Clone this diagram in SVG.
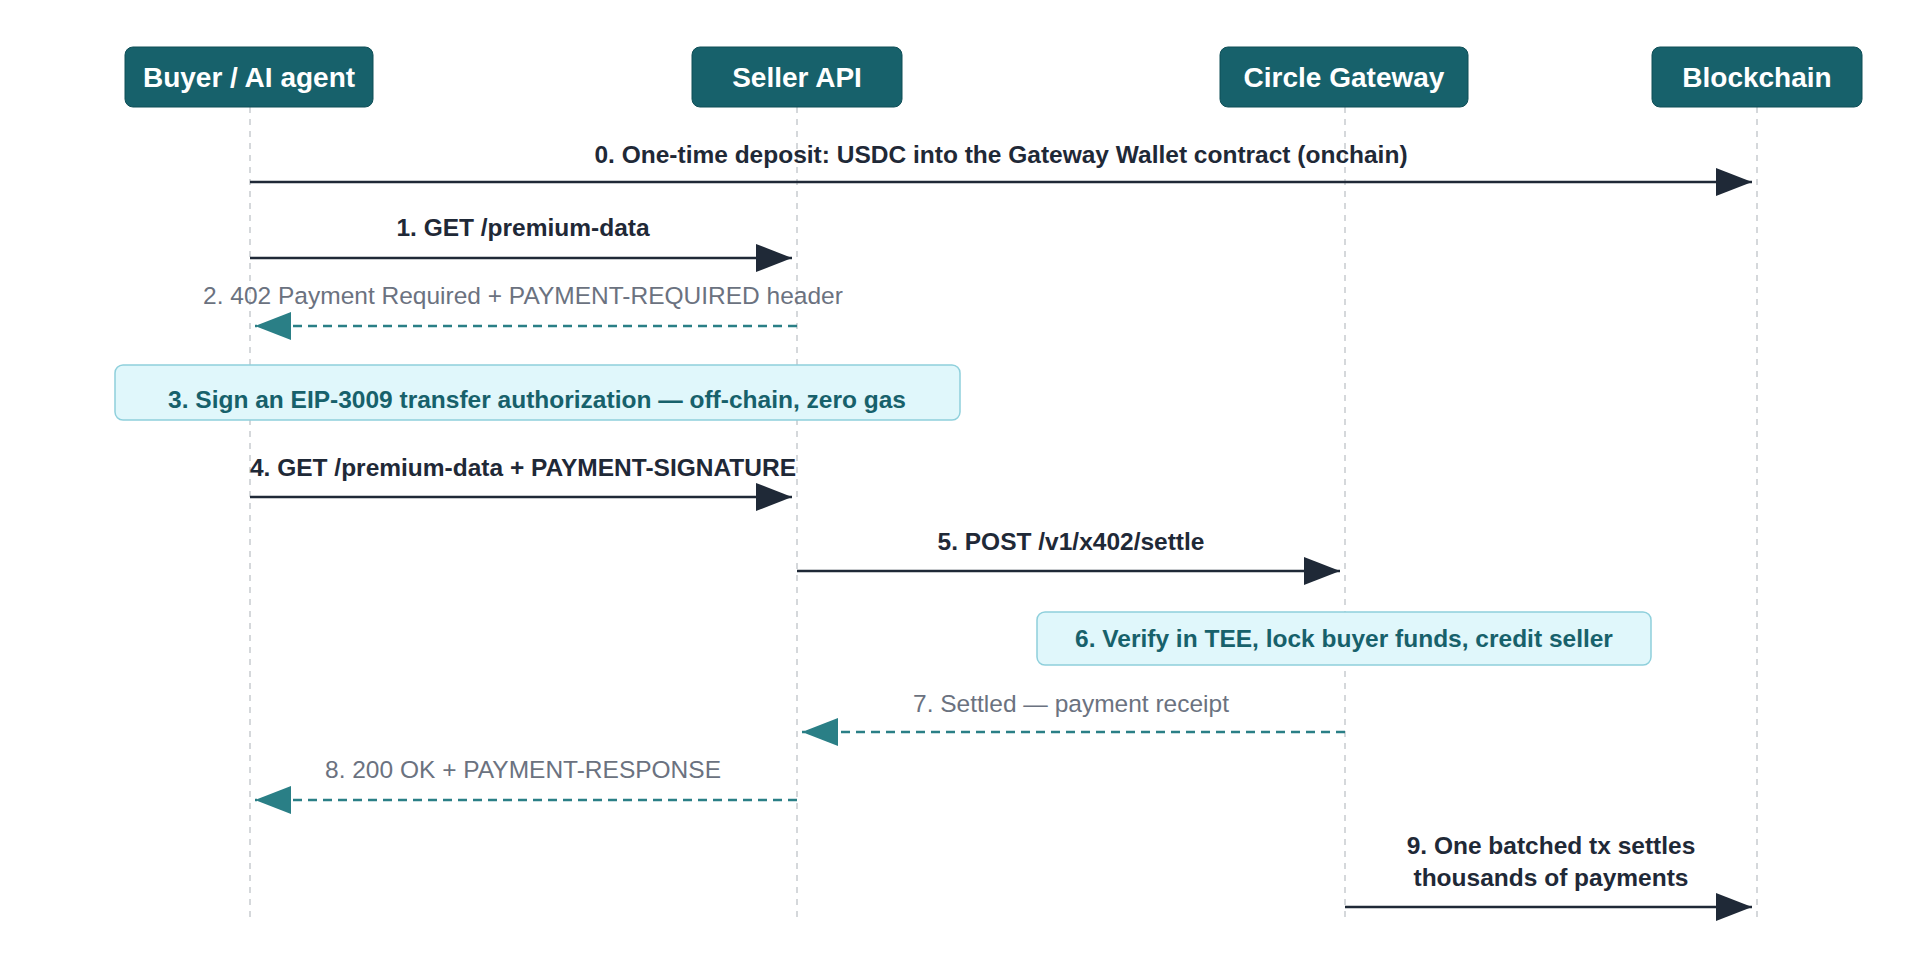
<svg xmlns="http://www.w3.org/2000/svg" width="1920" height="960" viewBox="0 0 1920 960">
<defs>
<marker id="ah" viewBox="0 0 36 28" refX="36" refY="14" markerWidth="36" markerHeight="28" markerUnits="userSpaceOnUse" orient="auto"><path d="M0,0 L36,14 L0,28 Z" fill="#1f2937"/></marker>
<marker id="ahd" viewBox="0 0 36 28" refX="36" refY="14" markerWidth="36" markerHeight="28" markerUnits="userSpaceOnUse" orient="auto"><path d="M0,0 L36,14 L0,28 Z" fill="#2a7f86"/></marker>
</defs>
<style>
.node rect{fill:#17616b;stroke:#0f4f57;stroke-width:1}
.node text{fill:#fff;font:bold 28px "Liberation Sans",Arial,sans-serif;text-anchor:middle}
.life{stroke:#c8cbd0;stroke-width:1.5;stroke-dasharray:6 6}
.solid{stroke:#1f2937;stroke-width:2.5;fill:none;marker-end:url(#ah)}
.dash{stroke:#2a7f86;stroke-width:2.5;fill:none;stroke-dasharray:9 6;marker-end:url(#ahd)}
.lb{fill:#1f2937;font:bold 24.5px "Liberation Sans",Arial,sans-serif;text-anchor:middle}
.lr{fill:#6b7280;font:24.5px "Liberation Sans",Arial,sans-serif;text-anchor:middle}
.note rect{fill:#e0f7fb;stroke:#8fd0dc;stroke-width:1.5}
.note text{fill:#17616b;font:bold 24.5px "Liberation Sans",Arial,sans-serif;text-anchor:middle}
</style>
<rect width="1920" height="960" fill="#fff"/>
<g id="lifelines">
<line class="life" x1="250" y1="107" x2="250" y2="921"/>
<line class="life" x1="797" y1="107" x2="797" y2="921"/>
<line class="life" x1="1345" y1="107" x2="1345" y2="921"/>
<line class="life" x1="1757" y1="107" x2="1757" y2="921"/>
</g>
<g id="buyer" class="node"><rect x="125" y="47" width="248" height="60" rx="8"/><text x="249" y="87">Buyer / AI agent</text></g>
<g id="seller" class="node"><rect x="692" y="47" width="210" height="60" rx="8"/><text x="797" y="87">Seller API</text></g>
<g id="gateway" class="node"><rect x="1220" y="47" width="248" height="60" rx="8"/><text x="1344" y="87">Circle Gateway</text></g>
<g id="blockchain" class="node"><rect x="1652" y="47" width="210" height="60" rx="8"/><text x="1757" y="87">Blockchain</text></g>
<g id="note3" class="note"><rect x="115" y="365" width="845" height="55" rx="8"/><text x="537" y="408">3. Sign an EIP-3009 transfer authorization — off-chain, zero gas</text></g>
<g id="note6" class="note"><rect x="1037" y="612" width="614" height="53" rx="8"/><text x="1344" y="647">6. Verify in TEE, lock buyer funds, credit seller</text></g>
<g id="connectors">
<line class="solid" x1="250" y1="182" x2="1752" y2="182"/>
<text class="lb" x="1001" y="163">0. One-time deposit: USDC into the Gateway Wallet contract (onchain)</text>
<line class="solid" x1="250" y1="258" x2="792" y2="258"/>
<text class="lb" x="523" y="236">1. GET /premium-data</text>
<line class="dash" x1="797" y1="326" x2="255" y2="326"/>
<text class="lr" x="523" y="304">2. 402 Payment Required + PAYMENT-REQUIRED header</text>
<line class="solid" x1="250" y1="497" x2="792" y2="497"/>
<text class="lb" x="523" y="476">4. GET /premium-data + PAYMENT-SIGNATURE</text>
<line class="solid" x1="797" y1="571" x2="1340" y2="571"/>
<text class="lb" x="1071" y="550">5. POST /v1/x402/settle</text>
<line class="dash" x1="1345" y1="732" x2="802" y2="732"/>
<text class="lr" x="1071" y="712">7. Settled — payment receipt</text>
<line class="dash" x1="797" y1="800" x2="255" y2="800"/>
<text class="lr" x="523" y="778">8. 200 OK + PAYMENT-RESPONSE</text>
<line class="solid" x1="1345" y1="907" x2="1752" y2="907"/>
<text class="lb" x="1551" y="854">9. One batched tx settles</text>
<text class="lb" x="1551" y="886">thousands of payments</text>
</g>
</svg>
